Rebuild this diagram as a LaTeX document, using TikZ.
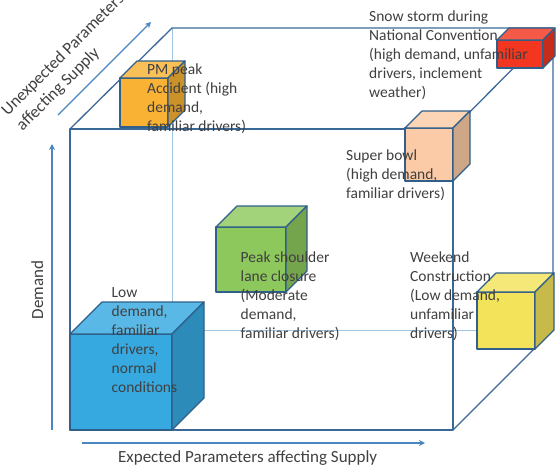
\documentclass[tikz,border=0pt]{standalone}
\usepackage{fontspec}
\setmainfont{Carlito}
\usepackage{tikz}
\usetikzlibrary{arrows.meta}
\definecolor{framecol}{HTML}{3A6898}
\definecolor{backcol}{HTML}{9EC5E3}
\definecolor{axiscol}{HTML}{4A86C0}
\definecolor{edgecol}{HTML}{2F5F8A}
\definecolor{txtcol}{HTML}{404040}
\definecolor{cubeblue}{HTML}{36A9E1}
\definecolor{cubegreen}{HTML}{8DC85C}
\definecolor{cubeorange}{HTML}{F9B233}
\definecolor{cubepeach}{HTML}{FBCAA6}
\definecolor{cubered}{HTML}{F2361F}
\definecolor{cubeyellow}{HTML}{F3E35A}
\newcommand{\cubebox}[6]{%
	\filldraw[cubeedge,fill=#6] (#1,#2) rectangle ++(#3,#4);
	\filldraw[cubeedge,fill=#6!82!white] (#1,#2) -- ++(#5,-#5) -- ++(#3,0) -- ++(-#5,#5) -- cycle;
	\filldraw[cubeedge,fill=#6!82!black] (#1+#3,#2) -- ++(#5,-#5) -- ++(0,#4) -- ++(-#5,#5) -- cycle;
}

\begin{document}
\begin{tikzpicture}[x=1pt,y=-1pt,
	cubeedge/.style={edgecol,line width=1.2pt,line join=round},
	frontline/.style={framecol,line width=1.3pt,line join=round},
	backline/.style={backcol,line width=0.8pt},
	axisarrow/.style={axiscol,line width=1.3pt,-{Stealth[length=6pt,width=6pt]}},
	lbl/.style={anchor=base west,align=left,inner sep=0pt,text=txtcol,font=\fontsize{15.5}{19}\selectfont},
	axlbl/.style={inner sep=0pt,text=txtcol,font=\fontsize{17}{21}\selectfont}]
	\useasboundingbox (0,0) rectangle (557,466);
	\clip (0,0) rectangle (557,466);
\draw[backline] (172,330) -- (172,28);
\draw[backline] (172,330) -- (553,330);
\draw[frontline] (70,129) rectangle (453,430);
\draw[frontline] (70,129) -- (172,28) -- (553,28) -- (553,330) -- (453,430);
\draw[frontline] (453,129) -- (553,28);
	\draw[axisarrow] (52,430) -- (52,144);
	\draw[axisarrow] (82,443) -- (425,443);
	\draw[axisarrow] (58,115) -- (151,22);
	\cubebox{216}{227}{70}{65}{21}{cubegreen}
	\cubebox{120}{78}{48}{49}{17}{cubeorange}
	\cubebox{405}{128}{48}{53}{17}{cubepeach}
	\cubebox{497}{40}{46}{28}{12}{cubered}
	\cubebox{477}{292}{58}{57}{19}{cubeyellow}
	\cubebox{70}{334}{102}{96}{32}{cubeblue}
\node[lbl] (snow) at (369,97.7) {Snow storm during\\National Convention\\(high demand, unfamiliar\\drivers, inclement\\weather)};
\node[lbl] (pmpeak) at (147,131) {PM peak\\Accident (high\\demand,\\familiar drivers)};
\node[lbl] (superbowl) at (346,198) {Super bowl\\(high demand,\\familiar drivers)};
\node[lbl] (shoulder) at (240.5,338) {Peak shoulder\\lane closure\\(Moderate\\demand,\\familiar drivers)};
\node[lbl] (weekend) at (410,338) {Weekend\\Construction\\(Low demand,\\unfamiliar\\drivers)};
\node[lbl] (lowdemand) at (111.5,392) {Low\\demand,\\familiar\\drivers,\\normal\\conditions};
	\node[axlbl,anchor=base west] (expected) at (118,462.7) {Expected Parameters affecting Supply};
	\node[axlbl,anchor=base,rotate=90] (demand) at (43,290) {Demand};
	\node[axlbl,anchor=west,align=left,rotate=45] (unexpected) at (12,121) {Unexpected Parameters\\affecting Supply};
\end{tikzpicture}
\end{document}
